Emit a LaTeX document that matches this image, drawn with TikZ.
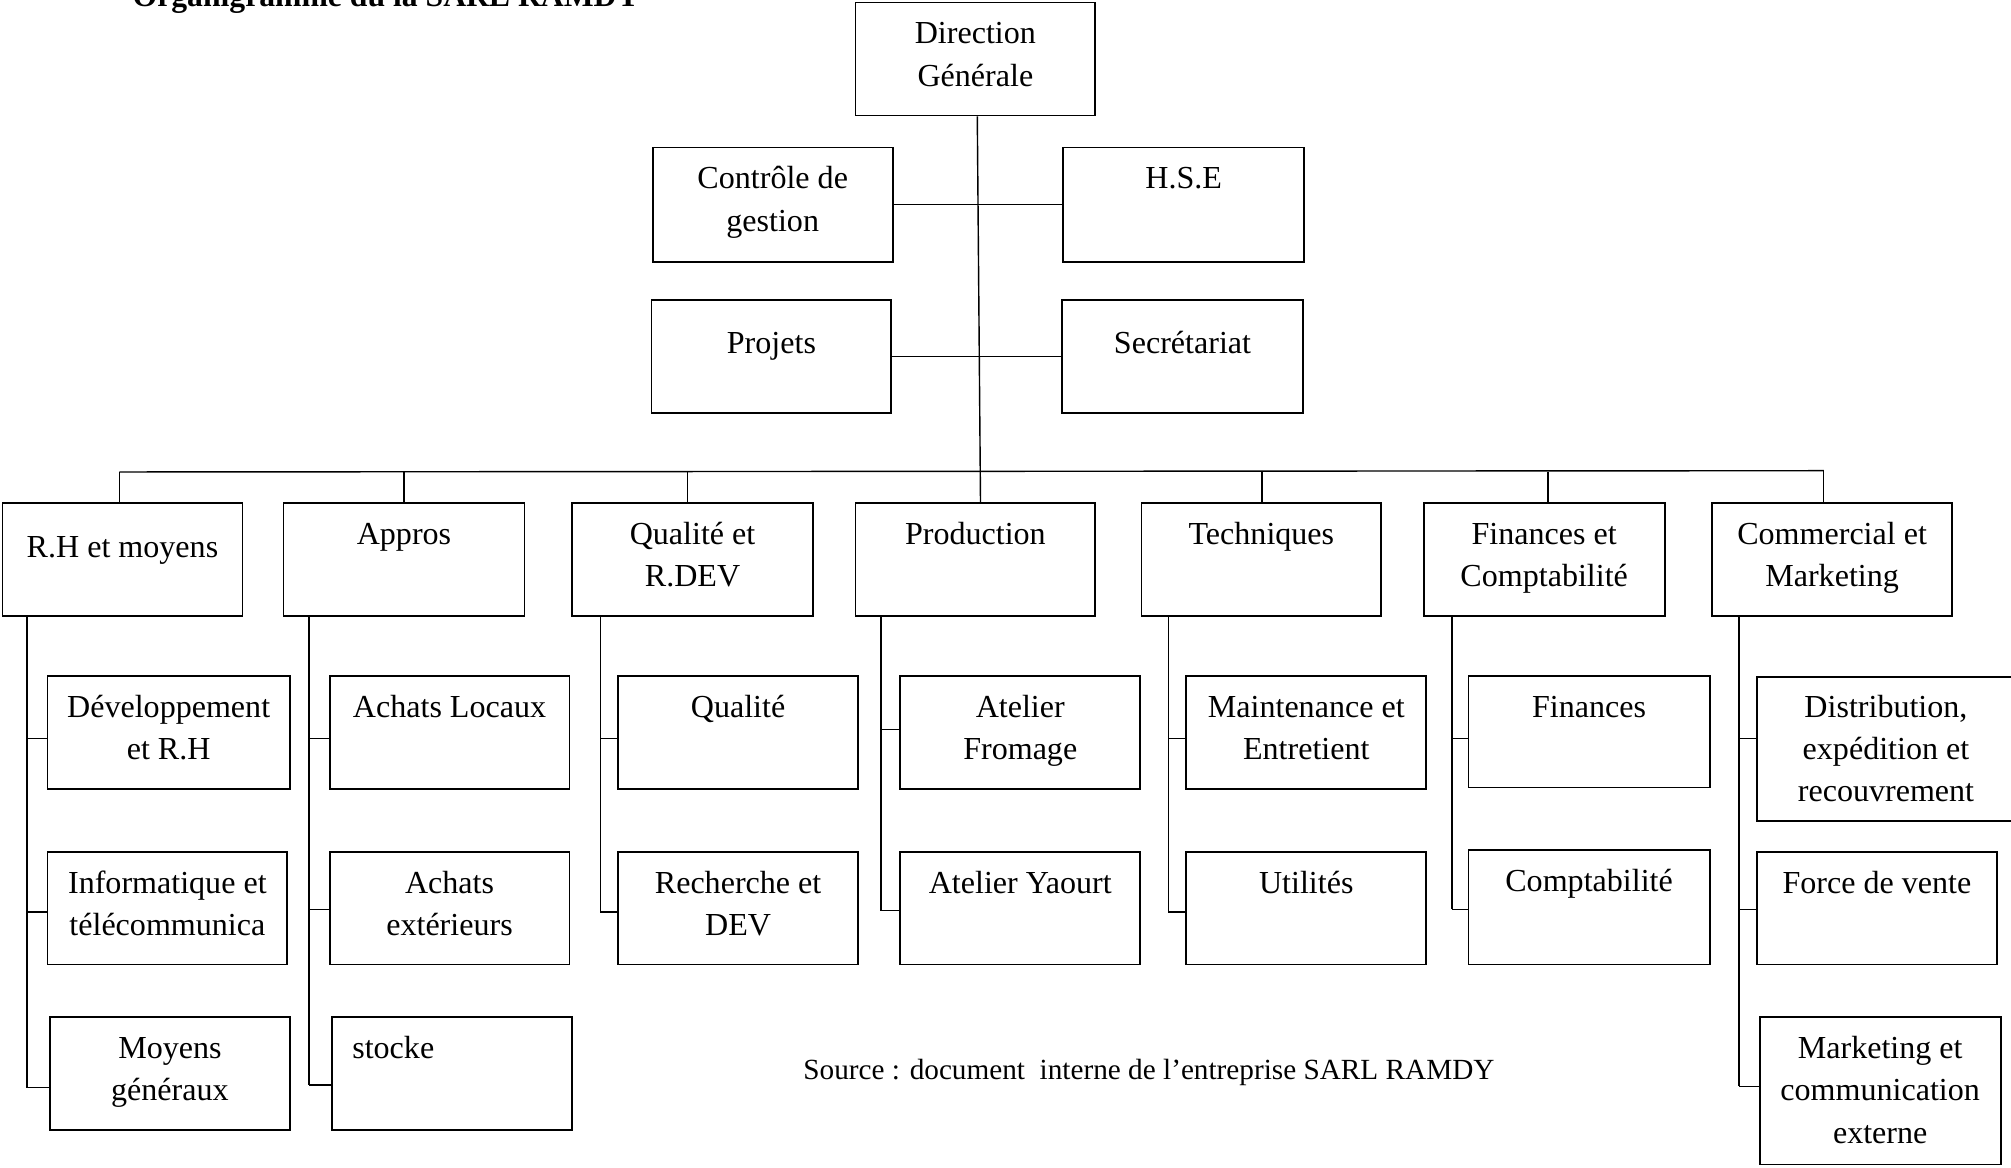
\documentclass[tikz,border=0pt]{standalone}
\usepackage{fontspec}
\setmainfont{Liberation Serif}
\usetikzlibrary{fit,calc}
\newcommand\mlines[1]{\begin{tabular}[t]{@{}c@{}}#1\end{tabular}}
% name, x1, y1, x2, y2, baseline offset, text
\newcommand\orgbox[7]{%
  \node[box, fit={(#2,#3) (#4,#5)}] (#1) {};
  \node[lbl, anchor=base] (#1-t) at ($(#1.north)+(0,#6)$) {\mlines{#7}};}
\begin{document}
\begin{tikzpicture}[x=0.5pt, y=-0.5pt,
  box/.style={draw, line width=0.7pt, inner sep=0pt},
  lbl/.style={inner sep=0pt, font=\fontsize{12.5pt}{16.5pt}\selectfont},
  link/.style={line width=0.55pt}]
\useasboundingbox (0,0) rectangle (1568,910);

% title (cut by the top edge)
\node[anchor=base west, inner sep=0pt, font=\bfseries\fontsize{12.35pt}{15pt}\selectfont] (title) at (103,5) {Organigramme du la SARL RAMDY};

% top level
\orgbox{dg}{667}{2}{854}{90}{33}{Direction\\Générale}
\orgbox{cg}{509}{115}{696}{204}{33}{Contrôle de\\gestion}
\orgbox{hse}{829}{115}{1017}{204}{33}{H.S.E}
\orgbox{proj}{508}{234}{695}{322}{42}{Projets}
\orgbox{sec}{828}{234}{1016}{322}{42}{Secrétariat}

% departments
\orgbox{rh}{2}{392}{189}{480}{43}{R.H et moyens}
\orgbox{app}{221}{392}{409}{480}{33}{Appros}
\orgbox{qrd}{446}{392}{634}{480}{33}{Qualité et\\R.DEV}
\orgbox{prod}{667}{392}{854}{480}{33}{Production}
\orgbox{tech}{890}{392}{1077}{480}{33}{Techniques}
\orgbox{fin}{1110}{392}{1298}{480}{33}{Finances et\\Comptabilité}
\orgbox{com}{1335}{392}{1522}{480}{33}{Commercial et\\Marketing}

% services
\orgbox{dev}{37}{527}{226}{615}{33}{Développement\\et R.H}
\orgbox{info}{37}{664}{224}{752}{33}{Informatique et\\télécommunica}
\orgbox{moy}{39}{793}{226}{881}{33}{Moyens\\généraux}
\orgbox{al}{257}{527}{444}{615}{33}{Achats Locaux}
\orgbox{ae}{257}{664}{444}{752}{33}{Achats\\extérieurs}
\node[box, fit={(259,793) (446,881)}] (sto) {};
\node[lbl, anchor=base west] (sto-t) at ($(sto.north west)+(16,33)$) {stocke};
\orgbox{qual}{482}{527}{669}{615}{33}{Qualité}
\orgbox{rech}{482}{664}{669}{752}{33}{Recherche et\\DEV}
\orgbox{af}{702}{527}{889}{615}{33}{Atelier\\Fromage}
\orgbox{ay}{702}{664}{889}{752}{33}{Atelier Yaourt}
\orgbox{mnt}{925}{527}{1112}{615}{33}{Maintenance et\\Entretient}
\orgbox{util}{925}{664}{1112}{752}{33}{Utilités}
\orgbox{fins}{1145}{527}{1333}{614}{33}{Finances}
\orgbox{compt}{1145}{663}{1333}{752}{33}{Comptabilité}
\orgbox{dist}{1370}{528}{1571}{640}{32}{Distribution,\\expédition et\\recouvrement}
\orgbox{fv}{1370}{664}{1557}{752}{33}{Force de vente}
\orgbox{mkt}{1372}{793}{1560}{908}{33}{Marketing et\\communication\\externe}

% source
\node[anchor=base west, inner sep=0pt, font=\fontsize{11.4pt}{14pt}\selectfont] (src) at (626,842) {Source : document\ \ interne de l’entreprise SARL RAMDY};

% connectors: top
\draw[link] ([xshift=0.75pt]dg.south) -- ([xshift=2pt]prod.north);
\draw[link] (cg.east) -- (hse.west);
\draw[link] (proj.east) -- (sec.west);

% bus
\coordinate (b1) at (93,368);
\coordinate (b2) at (315,368);
\coordinate (b3) at (536,368);
\coordinate (b5) at (984,368);
\coordinate (b6) at (1207,368);
\coordinate (b7) at (1422,367);
\draw[link] (b1) -- (b7);
\foreach \b/\n in {b1/rh, b2/app, b3/qrd, b5/tech, b6/fin, b7/com}
  \draw[link] (\b) -- (\b |- \n.north);

% column 1
\coordinate (v1a) at (21,576); \coordinate (v1b) at (21,711); \coordinate (v1c) at (21,848);
\draw[link] (rh.south -| v1a) -- (v1c);
\draw[link] (v1a) -- (v1a -| dev.west);
\draw[link] (v1b) -- (v1b -| info.west);
\draw[link] (v1c) -- (v1c -| moy.west);
% column 2
\coordinate (v2a) at (241,576); \coordinate (v2b) at (241,709); \coordinate (v2c) at (241,846);
\draw[link] (app.south -| v2a) -- (v2c);
\draw[link] (v2a) -- (v2a -| al.west);
\draw[link] (v2b) -- (v2b -| ae.west);
\draw[link] (v2c) -- (v2c -| sto.west);
% column 3
\coordinate (v3a) at (468,576); \coordinate (v3b) at (468,711);
\draw[link] (qrd.south -| v3a) -- (v3b);
\draw[link] (v3a) -- (v3a -| qual.west);
\draw[link] (v3b) -- (v3b -| rech.west);
% column 4
\coordinate (v4a) at (687,569); \coordinate (v4b) at (687,710);
\draw[link] (prod.south -| v4a) -- (v4b);
\draw[link] (v4a) -- (v4a -| af.west);
\draw[link] (v4b) -- (v4b -| ay.west);
% column 5
\coordinate (v5a) at (911,576); \coordinate (v5b) at (911,711);
\draw[link] (tech.south -| v5a) -- (v5b);
\draw[link] (v5a) -- (v5a -| mnt.west);
\draw[link] (v5b) -- (v5b -| util.west);
% column 6
\coordinate (v6a) at (1132,576); \coordinate (v6b) at (1132,709);
\draw[link] (fin.south -| v6a) -- (v6b);
\draw[link] (v6a) -- (v6a -| fins.west);
\draw[link] (v6b) -- (v6b -| compt.west);
% column 7
\coordinate (v7a) at (1356,576); \coordinate (v7b) at (1356,709); \coordinate (v7c) at (1356,847);
\draw[link] (com.south -| v7a) -- (v7c);
\draw[link] (v7a) -- (v7a -| dist.west);
\draw[link] (v7b) -- (v7b -| fv.west);
\draw[link] (v7c) -- (v7c -| mkt.west);
\end{tikzpicture}
\end{document}
